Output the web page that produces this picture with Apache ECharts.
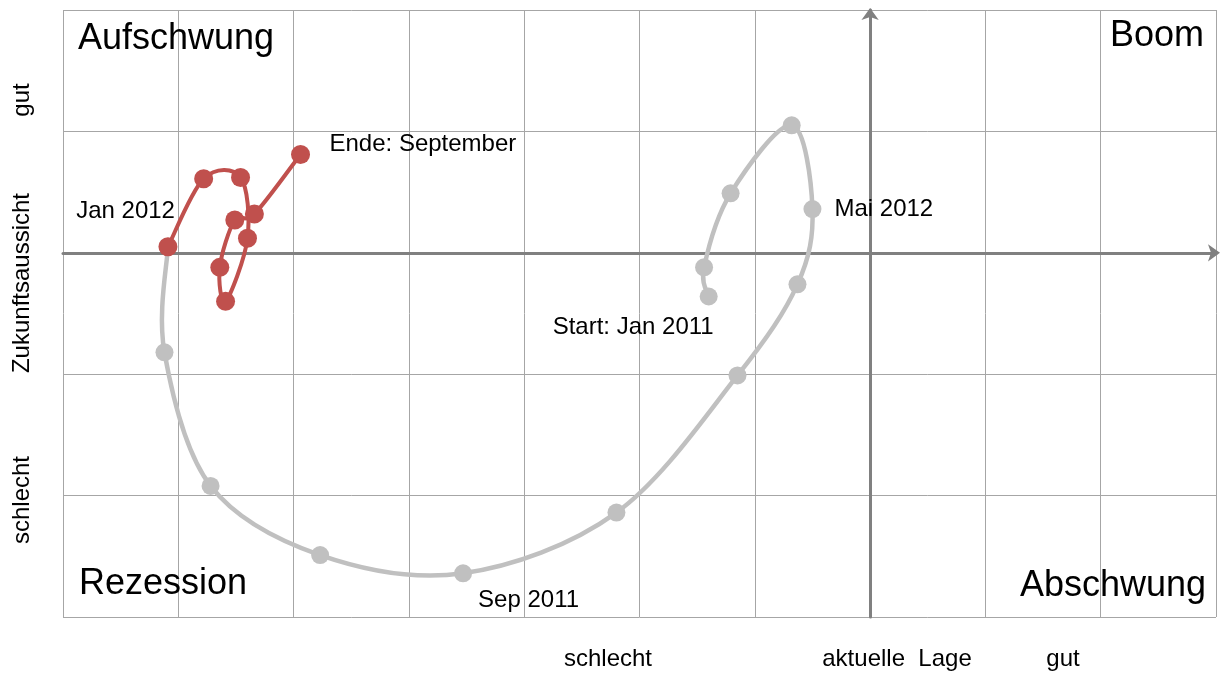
<!DOCTYPE html>
<html>
<head>
<meta charset="utf-8">
<script src="https://cdn.jsdelivr.net/npm/echarts@6/dist/echarts.min.js"></script>
<style>
html,body{margin:0;padding:0;background:#fff;}
#chart{width:1221px;height:675px;}
</style>
</head>
<body>
<div id="chart"></div>
<script>
// Gray path: Jan 2011 .. Jan 2012 (aktuelle Lage = x, Zukunftsaussicht = y)
const grayX = [-1.40, -1.44, -1.21, -0.68, -0.50, -0.63, -1.15, -2.20, -3.53, -4.77, -5.72, -6.12, -6.09];
const grayY = [-0.36, -0.12, 0.49, 1.05, 0.36, -0.26, -1.01, -2.14, -2.64, -2.49, -1.92, -0.82, 0.05];
const grayLabels = ['Start: Jan 2011', '', '', '', 'Mai 2012', '', '', '', 'Sep 2011', '', '', '', ''];

// Red path: Jan 2012 .. September 2012
const redX = [-6.09, -5.78, -5.46, -5.40, -5.59, -5.64, -5.51, -5.34, -4.94];
const redY = [0.05, 0.61, 0.62, 0.12, -0.40, -0.12, 0.27, 0.32, 0.81];
const redLabels = ['Jan 2012', '', '', '', '', '', '', '', 'Ende: September'];

const quadrantLabels = ['Aufschwung', 'Boom', 'Rezession', 'Abschwung'];
const yAxisTitles = ['gut', 'Zukunftsaussicht', 'schlecht'];
const xAxisTitles = ['schlecht', 'aktuelle  Lage', 'gut'];

const FONT = "'Liberation Sans', Arial, Helvetica, sans-serif";
const GRAY = '#c0c0c0';
const RED = '#c0504d';

// label placement styles (offset from point centre)
const labelStyles = {
  'Start: Jan 2011': {align: 'right', offset: [5, 31]},
  'Mai 2012': {align: 'left', offset: [22, 0]},
  'Sep 2011': {align: 'left', offset: [15, 27]},
  'Jan 2012': {align: 'right', offset: [7, -35]},
  'Ende: September': {align: 'left', offset: [29, -10]}
};

function buildData(xs, ys, labels) {
  return xs.map(function (x, i) {
    const item = {value: [x, ys[i]]};
    const t = labels[i];
    if (t) {
      const s = labelStyles[t];
      item.label = {
        show: true, formatter: t, position: 'inside',
        align: s.align, verticalAlign: 'middle', offset: s.offset,
        color: '#000', fontSize: 24, fontFamily: FONT
      };
    }
    return item;
  });
}

// smooth curve (Catmull-Rom as cubic Bezier) through the points, positioned by the axes
function curveSeries(xs, ys, color, width, z) {
  return {
    type: 'custom', z: z, silent: true,
    data: xs.map(function (x, i) { return [x, ys[i]]; }),
    encode: {x: 0, y: 1},
    renderItem: function (params, api) {
      const i = params.dataIndex;
      if (i >= xs.length - 1) return null;
      const n = xs.length;
      const p = function (k) {
        k = Math.max(0, Math.min(n - 1, k));
        return api.coord([xs[k], ys[k]]);
      };
      const p0 = p(i - 1), p1 = p(i), p2 = p(i + 1), p3 = p(i + 2);
      const t = 1 / 6;
      return {
        type: 'bezierCurve',
        shape: {
          x1: p1[0], y1: p1[1], x2: p2[0], y2: p2[1],
          cpx1: p1[0] + (p2[0] - p0[0]) * t, cpy1: p1[1] + (p2[1] - p0[1]) * t,
          cpx2: p2[0] - (p3[0] - p1[0]) * t, cpy2: p2[1] - (p3[1] - p1[1]) * t
        },
        style: {stroke: color, lineWidth: width, fill: null, lineCap: 'round'}
      };
    }
  };
}

const chart = echarts.init(document.getElementById('chart'), null, {renderer: 'canvas'});

const graphic = [];
const quadPos = [
  {x: 78, y: 39, align: 'left'},
  {x: 1204, y: 36, align: 'right'},
  {x: 79, y: 584, align: 'left'},
  {x: 1206, y: 586, align: 'right'}
];
quadrantLabels.forEach(function (t, i) {
  graphic.push({type: 'text', x: quadPos[i].x, y: quadPos[i].y, z: 10,
    style: {text: t, font: '36px ' + FONT, fill: '#000', textAlign: quadPos[i].align, textVerticalAlign: 'middle'}});
});
const yTitlePos = [100, 283, 500];
yAxisTitles.forEach(function (t, i) {
  graphic.push({type: 'text', x: 22, y: yTitlePos[i], rotation: Math.PI / 2, z: 10,
    style: {text: t, font: '24px ' + FONT, fill: '#000', textAlign: 'center', textVerticalAlign: 'middle'}});
});
const xTitlePos = [608, 897, 1063];
xAxisTitles.forEach(function (t, i) {
  graphic.push({type: 'text', x: xTitlePos[i], y: 659, z: 10,
    style: {text: t, font: '24px ' + FONT, fill: '#000', textAlign: 'center', textVerticalAlign: 'middle'}});
});

chart.setOption({
  animation: false,
  backgroundColor: '#fff',
  grid: {left: 63, right: 5, top: 10, bottom: 58, containLabel: false},
  xAxis: {
    type: 'value', min: -7, max: 3, interval: 1,
    axisLabel: {show: false}, axisTick: {show: false},
    axisLine: {show: true, onZero: true, symbol: ['none', 'arrow'], symbolSize: [13, 12], symbolOffset: [0, 4],
      lineStyle: {color: '#808080', width: 3}},
    splitLine: {show: true, lineStyle: {color: '#a6a6a6', width: 1}}
  },
  yAxis: {
    type: 'value', min: -3, max: 2, interval: 1,
    axisLabel: {show: false}, axisTick: {show: false},
    axisLine: {show: true, onZero: true, symbol: ['none', 'arrow'], symbolSize: [13, 12], symbolOffset: [0, 2],
      lineStyle: {color: '#808080', width: 3}},
    splitLine: {show: true, lineStyle: {color: '#a6a6a6', width: 1}}
  },
  graphic: graphic,
  series: [
    curveSeries(grayX, grayY, GRAY, 4.5, 3),
    {
      type: 'line', name: '2011',
      data: buildData(grayX, grayY, grayLabels),
      symbol: 'circle', symbolSize: 18,
      lineStyle: {width: 0, opacity: 0},
      itemStyle: {color: GRAY},
      z: 4
    },
    curveSeries(redX, redY, RED, 4, 5),
    {
      type: 'line', name: '2012',
      data: buildData(redX, redY, redLabels),
      symbol: 'circle', symbolSize: 19,
      lineStyle: {width: 0, opacity: 0},
      itemStyle: {color: RED},
      z: 6
    }
  ]
});
</script>
</body>
</html>
